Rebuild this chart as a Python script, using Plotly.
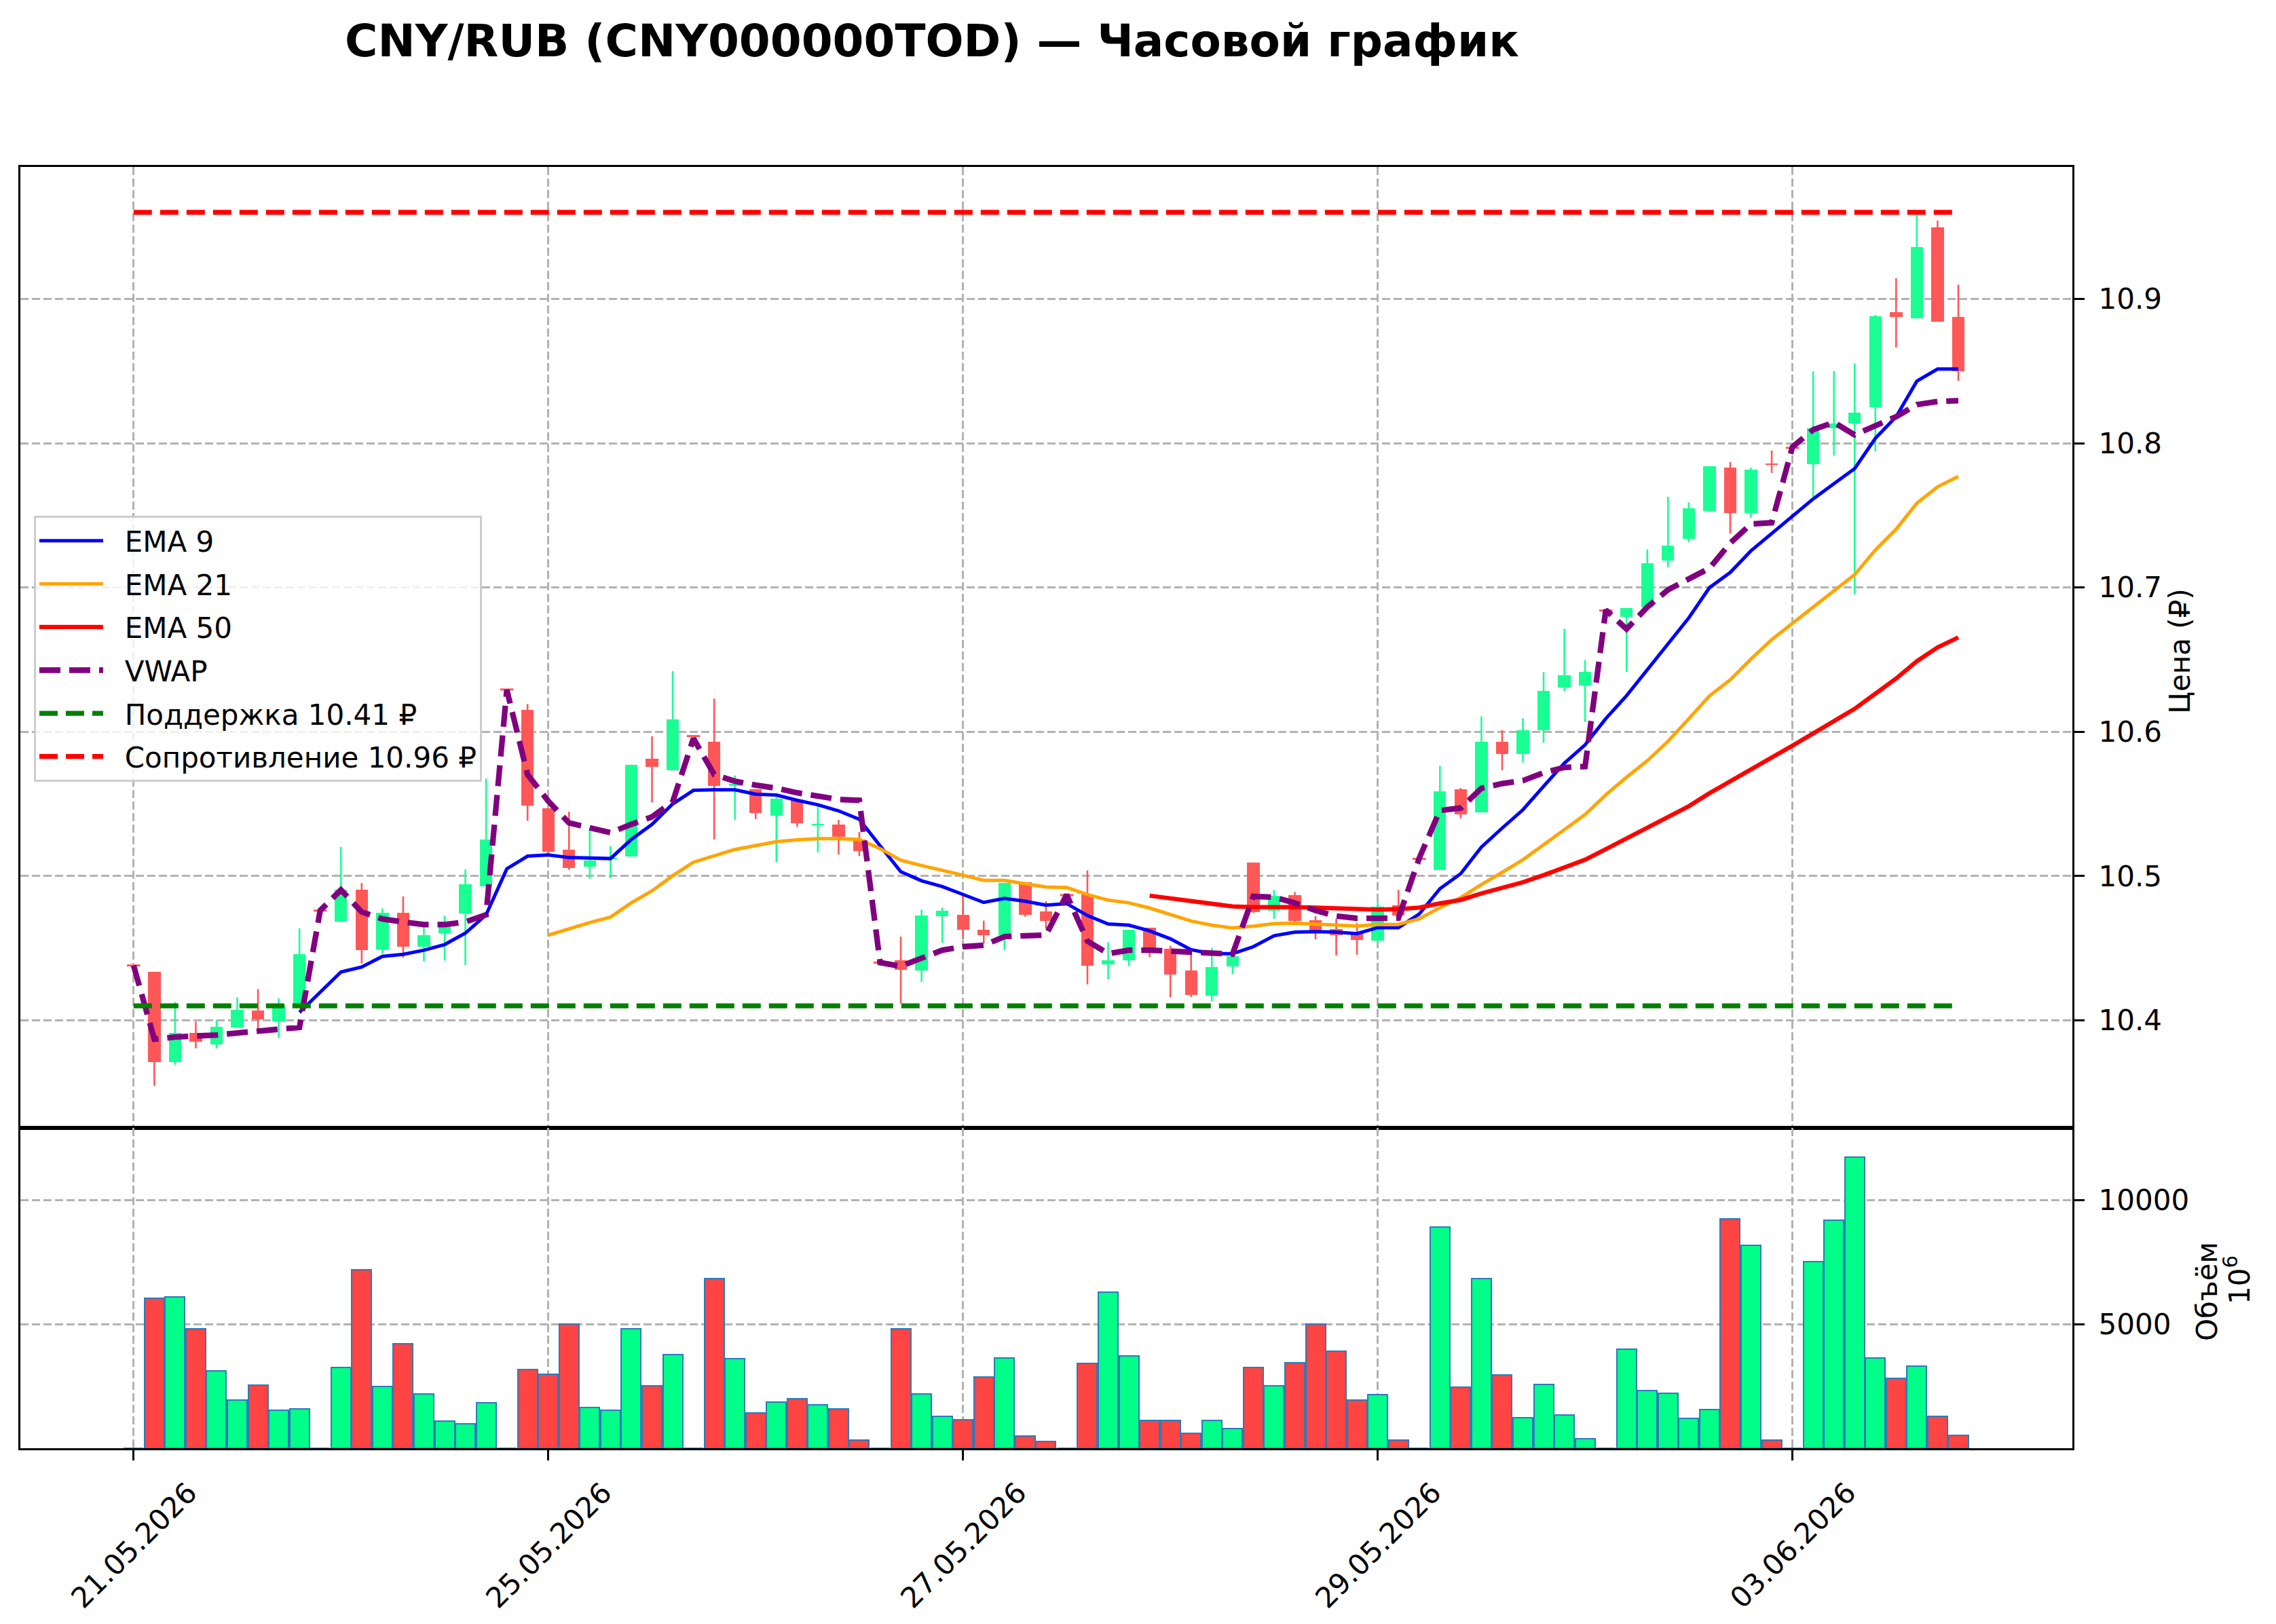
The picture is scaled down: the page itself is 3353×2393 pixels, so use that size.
import plotly.graph_objects as go

# ---------------- data ----------------
IDX = list(range(89))
OPEN = [10.438, 10.4335, 10.3708, 10.3912, 10.3833, 10.3951, 10.4069, 10.3994, 10.4104, 10.476,
        10.4682, 10.4904, 10.4492, 10.4747, 10.4512, 10.4604, 10.4741, 10.4927, 10.6293, 10.6151,
        10.5469, 10.5184, 10.5065, 10.5115, 10.5134, 10.5814, 10.5734, 10.597, 10.5933, 10.5623,
        10.5603, 10.542, 10.5531, 10.5354, 10.5358, 10.5253, 10.44, 10.4415, 10.4347, 10.4722,
        10.4729, 10.4628, 10.4588, 10.4959, 10.4754, 10.4868, 10.4872, 10.4386, 10.4415, 10.464,
        10.4498, 10.4347, 10.417, 10.4375, 10.5094, 10.4761, 10.4869, 10.4693, 10.4631, 10.4611,
        10.4553, 10.4797, 10.5119, 10.5041, 10.5602, 10.544, 10.5931, 10.5847, 10.6011, 10.6306,
        10.632, 10.684, 10.6795, 10.6864, 10.7185, 10.7338, 10.753, 10.7833, 10.7518, 10.786,
        10.7968, 10.7854, 10.8103, 10.8139, 10.825, 10.891, 10.8868, 10.9495, 10.8874]
HIGH = [10.438, 10.4335, 10.4127, 10.399, 10.400, 10.4159, 10.4216, 10.4153, 10.4637, 10.476,
        10.5202, 10.4951, 10.4775, 10.4859, 10.4669, 10.4725, 10.5045, 10.5676, 10.6293, 10.6192,
        10.5469, 10.5446, 10.5333, 10.5207, 10.5772, 10.5969, 10.642, 10.597, 10.623, 10.5697,
        10.5603, 10.5546, 10.5531, 10.5483, 10.5389, 10.5305, 10.44, 10.458, 10.4767, 10.4781,
        10.488, 10.4691, 10.4951, 10.4959, 10.4825, 10.4868, 10.5038, 10.4541, 10.4628, 10.464,
        10.4517, 10.4454, 10.4502, 10.4442, 10.5094, 10.4904, 10.4889, 10.4722, 10.4703, 10.4673,
        10.4818, 10.4904, 10.5119, 10.5764, 10.561, 10.6107, 10.6011, 10.6093, 10.6413, 10.6713,
        10.6498, 10.684, 10.6858, 10.7263, 10.7629, 10.759, 10.7839, 10.7869, 10.783, 10.795,
        10.7968, 10.8499, 10.8499, 10.8553, 10.8889, 10.9144, 10.96, 10.9543, 10.9099]
LOW = [10.438, 10.3545, 10.3692, 10.3806, 10.3806, 10.3951, 10.3918, 10.3878, 10.4100, 10.476,
       10.4682, 10.4394, 10.4461, 10.4433, 10.4408, 10.4414, 10.4382, 10.4927, 10.6293, 10.5383,
       10.5159, 10.5044, 10.4981, 10.4985, 10.5134, 10.551, 10.5734, 10.597, 10.5253, 10.5389,
       10.5395, 10.5096, 10.5341, 10.5163, 10.5149, 10.5138, 10.44, 10.4115, 10.4265, 10.4536,
       10.4562, 10.4533, 10.4486, 10.4718, 10.4636, 10.4868, 10.4249, 10.4284, 10.4375, 10.4438,
       10.4158, 10.4162, 10.4131, 10.432, 10.4744, 10.4703, 10.4664, 10.456, 10.4449, 10.4454,
       10.4538, 10.4722, 10.5119, 10.5041, 10.5401, 10.544, 10.5733, 10.5787, 10.5923, 10.6283,
       10.6067, 10.684, 10.6414, 10.6864, 10.714, 10.7314, 10.753, 10.7374, 10.7485, 10.7794,
       10.7968, 10.7629, 10.7914, 10.6954, 10.7944, 10.8664, 10.8868, 10.8844, 10.8433]
CLOSE = [10.438, 10.3708, 10.3912, 10.3853, 10.3953, 10.4073, 10.4006, 10.4104, 10.4457, 10.476,
         10.4904, 10.4486, 10.4747, 10.4512, 10.459, 10.4682, 10.4941, 10.5251, 10.6293, 10.5487,
         10.5169, 10.5054, 10.5107, 10.5125, 10.5772, 10.5755, 10.6084, 10.597, 10.5623, 10.5640,
         10.5435, 10.5536, 10.5364, 10.5358, 10.5274, 10.5174, 10.44, 10.4352, 10.4726, 10.4759,
         10.4628, 10.4588, 10.4951, 10.473, 10.4691, 10.4868, 10.4379, 10.4418, 10.4628, 10.4486,
         10.4315, 10.4178, 10.4371, 10.4442, 10.4752, 10.4865, 10.4689, 10.4625, 10.4591, 10.4557,
         10.4788, 10.4726, 10.5119, 10.5588, 10.5426, 10.5929, 10.5847, 10.6011, 10.6283, 10.6394,
         10.6413, 10.684, 10.6858, 10.717, 10.729, 10.7548, 10.7839, 10.7518, 10.7818, 10.785,
         10.7968, 10.8103, 10.8139, 10.8214, 10.888, 10.8874, 10.936, 10.8844, 10.8499]
VOLUME_MLN = [0, 6045, 6081, 4818, 3109, 1927, 2536, 1518, 1582, 0,
              3245, 7190, 2500, 4218, 2200, 1082, 973, 1818, 0, 3182,
              2991, 5009, 1645, 1536, 4809, 2518, 3773, 0, 6827, 3609,
              1427, 1864, 2000, 1754, 1591, 318, 0, 4809, 2191, 1291,
              1136, 2872, 3636, 500, 282, 0, 3427, 6290, 3718, 1109,
              1109, 591, 1109, 791, 3263, 2518, 3454, 4990, 3918, 1927,
              2154, 336, 0, 8908, 2472, 6836, 2945, 1218, 2563, 1336,
              382, 0, 4000, 2336, 2227, 1200, 1545, 9245, 8181, 318,
              0, 7518, 9181, 11726, 3627, 2827, 3318, 1273, 518]
EMA9_START = 8
EMA9 = [10.4055, 10.4196, 10.4335, 10.4369, 10.4443, 10.4457, 10.4486, 10.4525, 10.4604, 10.4731,
        10.5050, 10.5138, 10.5146, 10.5128, 10.5123, 10.5121, 10.5253, 10.5358, 10.5500, 10.5594,
        10.5598, 10.5598, 10.5567, 10.5561, 10.5525, 10.5494, 10.5452, 10.5393, 10.5210, 10.5030,
        10.4967, 10.4927, 10.4872, 10.4817, 10.4845, 10.4825, 10.4798, 10.4809, 10.4726, 10.4667,
        10.4659, 10.4620, 10.4565, 10.4489, 10.4462, 10.4462, 10.4510, 10.4586, 10.4611, 10.4615,
        10.4611, 10.4601, 10.4642, 10.4642, 10.4736, 10.4912, 10.5016, 10.5201, 10.5332, 10.5459,
        10.5622, 10.5782, 10.5909, 10.6091, 10.6250, 10.6429, 10.6603, 10.6789, 10.6999, 10.7104,
        10.7254, 10.7374, 10.7494, 10.7614, 10.7719, 10.7824, 10.8034, 10.8184, 10.8430, 10.8514,
        10.8514]
EMA21_START = 20
EMA21 = [10.4590, 10.4636, 10.4678, 10.4715, 10.4814, 10.4897, 10.5002, 10.5096, 10.5138, 10.5184,
         10.5211, 10.5238, 10.5251, 10.5259, 10.5259, 10.5253, 10.5190, 10.5109, 10.5073, 10.5041,
         10.5006, 10.4970, 10.4970, 10.4946, 10.4924, 10.4920, 10.4872, 10.4833, 10.4814, 10.4778,
         10.4735, 10.4688, 10.4659, 10.4640, 10.4652, 10.4670, 10.4674, 10.4668, 10.4660, 10.4654,
         10.4664, 10.4664, 10.4703, 10.4781, 10.4850, 10.4941, 10.5025, 10.5113, 10.5217, 10.5325,
         10.5426, 10.5563, 10.5685, 10.5799, 10.5934, 10.6090, 10.6249, 10.6360, 10.6504, 10.6639,
         10.6750, 10.6864, 10.6978, 10.7089, 10.7260, 10.7404, 10.7584, 10.7698, 10.7770]
EMA50_START = 49
EMA50 = [10.4864, 10.4845, 10.4820, 10.4801, 10.4789, 10.4785, 10.4787, 10.4785, 10.4781, 10.4775,
         10.4767, 10.4767, 10.4771, 10.4781, 10.4810, 10.4834, 10.4879, 10.4918, 10.4957, 10.5006,
         10.5061, 10.5113, 10.5186, 10.5260, 10.5328, 10.5403, 10.5484, 10.5574, 10.5655, 10.5739,
         10.5820, 10.5904, 10.5988, 10.6075, 10.6159, 10.6264, 10.6369, 10.6489, 10.6585, 10.6654]
VWAP = [10.438, 10.3869, 10.3884, 10.3888, 10.3898, 10.3912, 10.3924, 10.3937, 10.3951, 10.4761,
        10.4904, 10.4751, 10.4702, 10.4682, 10.4663, 10.4663, 10.4682, 10.4731, 10.6290, 10.5703,
        10.5519, 10.5368, 10.5331, 10.5301, 10.5358, 10.5410, 10.5515, 10.5954, 10.5703, 10.5657,
        10.5630, 10.5609, 10.5577, 10.5552, 10.5531, 10.5525, 10.4400, 10.4375, 10.4431, 10.4486,
        10.4510, 10.4520, 10.4580, 10.4588, 10.4591, 10.4870, 10.4549, 10.4462, 10.4486, 10.4486,
        10.4478, 10.4467, 10.4459, 10.4459, 10.4859, 10.4853, 10.4814, 10.4761, 10.4722, 10.4707,
        10.4707, 10.4709, 10.5123, 10.5455, 10.5471, 10.5608, 10.5641, 10.5661, 10.5716, 10.5753,
        10.5759, 10.6844, 10.6712, 10.6864, 10.6984, 10.7059, 10.7134, 10.7308, 10.7440, 10.7449,
        10.7974, 10.8094, 10.8145, 10.8058, 10.8118, 10.8184, 10.8268, 10.8289, 10.8295]
SUPPORT = 10.41
RESISTANCE = 10.96
XTICK_POS = [0, 20, 40, 60, 80]
XTICK_LABELS = ["21.05.2026", "25.05.2026", "27.05.2026", "29.05.2026", "03.06.2026"]
PRICE_TICKS = [10.4, 10.5, 10.6, 10.7, 10.8, 10.9]
VOL_TICKS = [5000, 10000]

assert len(OPEN) == len(HIGH) == len(LOW) == len(CLOSE) == len(VOLUME_MLN) == len(VWAP) == len(IDX)

# ---------------- styling ----------------
RED_C = "#ff5757"
GREEN_C = "#19ff94"
RED_V = "#ff4444"
GREEN_V = "#00ff88"
GRID = "#b2b2b2"
FONT = "DejaVu Sans"
PAD = "\u00a0\u00a0"  # gap between legend line sample and its text

fig = go.Figure()

up = [c > o for o, c in zip(OPEN, CLOSE)]
doji = [abs(c - o) < 1e-9 for o, c in zip(OPEN, CLOSE)]

# wicks
for flag, col in [(True, GREEN_C), (False, RED_C)]:
    xs, ys = [], []
    for i in IDX:
        if up[i] == flag and not doji[i]:
            xs += [i, i, None]
            ys += [LOW[i], HIGH[i], None]
    fig.add_trace(go.Scatter(x=xs, y=ys, mode="lines", line=dict(color=col, width=2.6),
                             showlegend=False, hoverinfo="skip", xaxis="x", yaxis="y"))

# bodies
body_x = [i for i in IDX if not doji[i]]
fig.add_trace(go.Bar(
    x=body_x,
    base=[min(OPEN[i], CLOSE[i]) for i in body_x],
    y=[abs(CLOSE[i] - OPEN[i]) for i in body_x],
    width=0.6,
    marker=dict(color=[GREEN_C if up[i] else RED_C for i in body_x], line=dict(width=0)),
    showlegend=False, xaxis="x", yaxis="y"))

# doji ticks
dx = [i for i in IDX if doji[i]]
fig.add_trace(go.Scatter(
    x=dx, y=[CLOSE[i] for i in dx], mode="markers",
    marker=dict(symbol="line-ew", size=14, line=dict(color=RED_C, width=3)),
    showlegend=False, xaxis="x", yaxis="y"))

# indicators
fig.add_trace(go.Scatter(x=IDX[EMA9_START:EMA9_START + len(EMA9)], y=EMA9, mode="lines",
                         name=PAD + "EMA 9", legendgroup="g1",
                         line=dict(color="blue", width=5), xaxis="x", yaxis="y"))
fig.add_trace(go.Scatter(x=IDX[EMA21_START:EMA21_START + len(EMA21)], y=EMA21, mode="lines",
                         name=PAD + "EMA 21", legendgroup="g2",
                         line=dict(color="orange", width=5), xaxis="x", yaxis="y"))
fig.add_trace(go.Scatter(x=IDX[EMA50_START:EMA50_START + len(EMA50)], y=EMA50, mode="lines",
                         name=PAD + "EMA 50", legendgroup="g3",
                         line=dict(color="red", width=6.3), xaxis="x", yaxis="y"))
fig.add_trace(go.Scatter(x=IDX, y=VWAP, mode="lines", name=PAD + "VWAP", legendgroup="g4",
                         line=dict(color="purple", width=8.3, dash="31px,13px"), xaxis="x", yaxis="y"))
fig.add_trace(go.Scatter(x=[IDX[0], IDX[-1]], y=[SUPPORT, SUPPORT], mode="lines",
                         name=PAD + f"Поддержка {SUPPORT:.2f} ₽", legendgroup="g5",
                         line=dict(color="green", width=7.3, dash="27px,12px"), xaxis="x", yaxis="y"))
fig.add_trace(go.Scatter(x=[IDX[0], IDX[-1]], y=[RESISTANCE, RESISTANCE], mode="lines",
                         name=PAD + f"Сопротивление {RESISTANCE:.2f} ₽", legendgroup="g6",
                         line=dict(color="red", width=7.3, dash="27px,12px"), xaxis="x", yaxis="y"))

# volume
fig.add_trace(go.Bar(
    x=IDX, y=VOLUME_MLN, width=0.95,
    marker=dict(color=[GREEN_V if up[i] else RED_V for i in IDX],
                line=dict(color="#2b7bb9", width=2)),
    showlegend=False, xaxis="x2", yaxis="y2"))

XR = [-5.46, 93.5]
common_x = dict(range=XR, tickvals=XTICK_POS, showgrid=True, gridcolor=GRID, gridwidth=3,
                griddash="12px,5px", showline=True, linecolor="black", linewidth=3.3,
                mirror=True, zeroline=False)
common_y = dict(side="right", showgrid=True, gridcolor=GRID, gridwidth=3, griddash="12px,5px",
                showline=True, linecolor="black", linewidth=3.3, mirror=True, zeroline=False,
                ticks="outside", ticklen=15, tickwidth=3.3, tickcolor="black",
                ticklabelstandoff=12, tickfont=dict(size=42, family=FONT, color="black"))

# page body has an 8px default margin -> compensate
fig.update_layout(
    width=3353, height=2393,
    margin=dict(l=22, r=308, t=238, b=267, pad=0),
    paper_bgcolor="white", plot_bgcolor="white",
    font=dict(family=FONT, size=42, color="black"),
    barmode="overlay", bargap=0,
    title=dict(text="<b>CNY/RUB (CNY000000TOD) — Часовой график</b>",
               x=(1373 - 8) / 3353, xanchor="center", xref="container",
               y=1 - (60 - 8) / 2393, yanchor="middle", yref="container",
               font=dict(size=66, family=FONT, color="black")),
    xaxis=dict(domain=[0, 1], anchor="y", showticklabels=False, ticks="", **common_x),
    xaxis2=dict(domain=[0, 1], anchor="y2", matches="x", showticklabels=False,
                ticks="outside", ticklen=15, tickwidth=3.3, tickcolor="black", **common_x),
    yaxis=dict(domain=[0.25, 1], anchor="x", range=[10.3254, 10.9915],
               tickvals=PRICE_TICKS, ticktext=[f"{v:.1f}" for v in PRICE_TICKS], **common_y),
    yaxis2=dict(domain=[0, 0.25], anchor="x2", range=[0, max(VOLUME_MLN) * 1.1],
                tickvals=VOL_TICKS, ticktext=[str(v) for v in VOL_TICKS], **common_y),
    legend=dict(x=0.0066, y=0.7278, xanchor="left", yanchor="top",
                bgcolor="rgba(255,255,255,0.8)", bordercolor="#cccccc", borderwidth=3,
                font=dict(size=42, family=FONT, color="black"), tracegroupgap=6,
                itemwidth=94),
)

annotations = []
for pos, lab in zip(XTICK_POS, XTICK_LABELS):
    annotations.append(dict(x=pos, xref="x2", y=-(2172 - 2134) / 1888, yref="paper",
                            text=lab, showarrow=False, textangle=-45,
                            xanchor="center", yanchor="top",
                            font=dict(size=42, family=FONT, color="black")))
annotations.append(dict(x=(3212 - 30) / 3023, y=0.622, xref="paper", yref="paper",
                        text="Цена (₽)", showarrow=False, textangle=-90,
                        xanchor="center", yanchor="middle",
                        font=dict(size=42, family=FONT, color="black")))
annotations.append(dict(x=(3251 - 30) / 3023, y=1 - (1903 - 246) / 1888, xref="paper", yref="paper",
                        text="Объём", showarrow=False, textangle=-90,
                        xanchor="center", yanchor="middle",
                        font=dict(size=42, family=FONT, color="black")))
annotations.append(dict(x=(3296 - 30) / 3023, y=1 - (1886 - 246) / 1888, xref="paper", yref="paper",
                        text="10<sup>6</sup>", showarrow=False, textangle=-90,
                        xanchor="center", yanchor="middle",
                        font=dict(size=42, family=FONT, color="black")))
fig.update_layout(annotations=annotations)

fig.write_html("out.html")
